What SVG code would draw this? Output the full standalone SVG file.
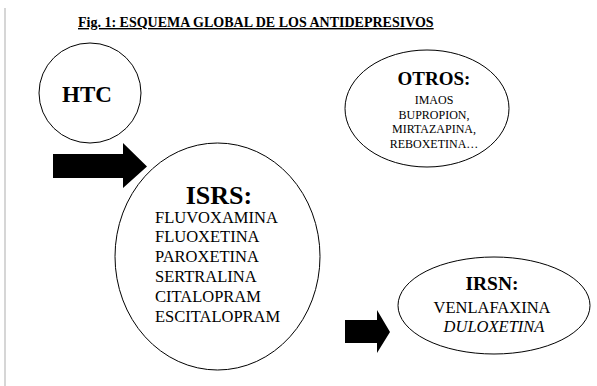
<svg xmlns="http://www.w3.org/2000/svg" width="597" height="386" viewBox="0 0 597 386">
<style>
text{font-family:"Liberation Serif","Times New Roman",serif;fill:#000}
.b{font-weight:bold}
.node{fill:none;stroke:#000;stroke-width:1}
.arrow{fill:#000;stroke:none}
</style>
<rect width="597" height="386" fill="#fff"/>
<line x1="5" y1="8" x2="5" y2="386" stroke="#c8c8c8" stroke-width="1.5"/>
<text class="b" x="78" y="27" font-size="14" text-decoration="underline">Fig. 1: ESQUEMA GLOBAL DE LOS ANTIDEPRESIVOS</text>
<g id="connectors">
<polygon class="arrow" points="53,154 123,154 123,143 147,166.5 123,188 123,178 53,178"/>
<polygon class="arrow" points="345,320 377,320 377,310 390,332 377,353 377,343 345,343"/>
</g>
<g id="htc">
<ellipse class="node" cx="90" cy="93" rx="51" ry="50"/>
<text class="b" x="87" y="102" font-size="23" text-anchor="middle">HTC</text>
</g>
<g id="otros">
<ellipse class="node" cx="427" cy="108.5" rx="82" ry="58.5"/>
<text class="b" x="434" y="85" font-size="19" text-anchor="middle">OTROS:</text>
<text x="434" y="104" font-size="12" text-anchor="middle">IMAOS</text>
<text x="434" y="118.5" font-size="12" text-anchor="middle">BUPROPION,</text>
<text x="434" y="133" font-size="12" text-anchor="middle">MIRTAZAPINA,</text>
<text x="434" y="147.5" font-size="12" text-anchor="middle">REBOXETINA…</text>
</g>
<g id="isrs">
<ellipse class="node" cx="217.5" cy="256.5" rx="102.5" ry="113.5"/>
<text class="b" x="219" y="204" font-size="26" text-anchor="middle">ISRS:</text>
<text x="155" y="222.5" font-size="16.5">FLUVOXAMINA</text>
<text x="155" y="242.3" font-size="16.5">FLUOXETINA</text>
<text x="155" y="262.1" font-size="16.5">PAROXETINA</text>
<text x="155" y="281.9" font-size="16.5">SERTRALINA</text>
<text x="155" y="301.7" font-size="16.5">CITALOPRAM</text>
<text x="155" y="321.5" font-size="16.5">ESCITALOPRAM</text>
</g>
<g id="irsn">
<ellipse class="node" cx="494" cy="305.5" rx="96" ry="48.5"/>
<text class="b" x="492" y="290" font-size="19.5" text-anchor="middle">IRSN:</text>
<text x="492" y="313" font-size="16.5" text-anchor="middle">VENLAFAXINA</text>
<text x="494" y="332" font-size="16.5" font-style="italic" text-anchor="middle">DULOXETINA</text>
</g>
</svg>
